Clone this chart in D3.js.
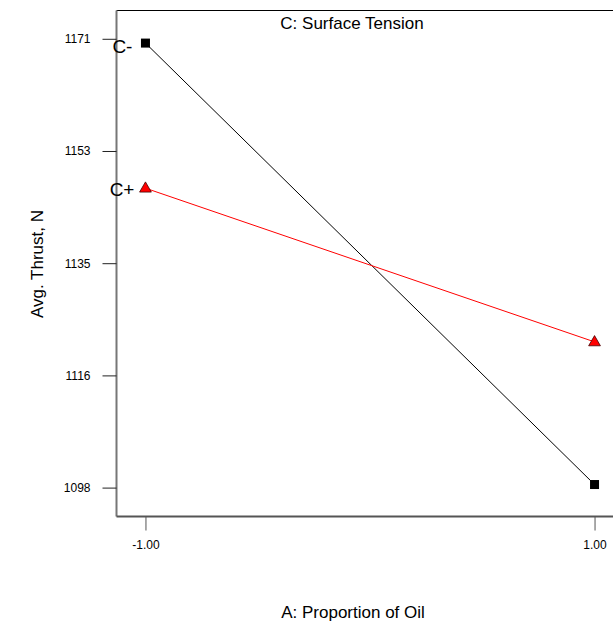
<!DOCTYPE html>
<html>
<head>
<meta charset="utf-8">
<script src="https://cdn.jsdelivr.net/npm/d3@7"></script>
<style>
  body { margin: 0; background: #fff; }
  svg { font-family: "Liberation Sans", Arial, sans-serif; }
</style>
</head>
<body>
<svg id="chart" width="613" height="627"></svg>
<script>
'use strict';
// Interaktiokuva: A x C
const factorA = [-1, 1];
const cMinus = [1170.3, 1098.5];
const cPlus = [1146.7, 1121.7];
const yTicks = [1098, 1116.25, 1134.5, 1152.75, 1171];
const xTicks = [-1, 1];

const svg = d3.select('#chart');

const plotLeft = 116.5, plotTop = 10.5, plotBottom = 516.5;

const x = d3.scaleLinear()
	.domain([-1.129, 1.129])
	.range([plotLeft, plotLeft + 507]);

const y = d3.scaleLinear()
	.domain([1093.3, 1175.6])
	.range([plotBottom, plotTop]);

// kehys
svg.append('line')
	.attr('x1', plotLeft).attr('x2', 613)
	.attr('y1', plotTop).attr('y2', plotTop)
	.attr('stroke', '#000').attr('stroke-width', 1);

const yAxis = svg.append('g')
	.attr('transform', `translate(${plotLeft},0)`)
	.call(d3.axisLeft(y).tickValues(yTicks).tickFormat(function(d) { return Math.round(d).toString(); }).tickSize(14).tickPadding(12));
yAxis.select('.domain').attr('stroke', '#777').attr('stroke-width', 2).attr('d', `M0,${plotTop}V${plotBottom}`);
yAxis.selectAll('.tick line').attr('stroke', '#222');
yAxis.selectAll('.tick text').attr('font-size', 12).attr('fill', '#000')
	.attr('font-family', '"Liberation Sans", Arial, sans-serif');

const xAxis = svg.append('g')
	.attr('transform', `translate(0,${plotBottom})`)
	.call(d3.axisBottom(x).tickValues(xTicks).tickFormat(function(d) { return d.toFixed(2); }).tickSize(14).tickPadding(10));
xAxis.select('.domain').attr('stroke', '#555').attr('stroke-width', 2).attr('d', `M${plotLeft},0H613`);
xAxis.selectAll('.tick line').attr('stroke', '#555');
xAxis.selectAll('.tick text').attr('font-size', 12).attr('fill', '#000')
	.attr('font-family', '"Liberation Sans", Arial, sans-serif');

const line = d3.line()
	.x(function(d) { return x(d[0]); })
	.y(function(d) { return y(d[1]); });

const blackData = factorA.map(function(a, i) { return [a, cMinus[i]]; });
const redData = factorA.map(function(a, i) { return [a, cPlus[i]]; });

svg.append('path')
	.datum(blackData)
	.attr('d', line)
	.attr('fill', 'none')
	.attr('stroke', '#000')
	.attr('stroke-width', 1);

svg.append('path')
	.datum(redData)
	.attr('d', line)
	.attr('fill', 'none')
	.attr('stroke', '#f00')
	.attr('stroke-width', 1);

svg.selectAll('.nelio')
	.data(blackData)
	.enter().append('rect')
	.attr('class', 'nelio')
	.attr('x', function(d) { return x(d[0]) - 4.5; })
	.attr('y', function(d) { return y(d[1]) - 4.5; })
	.attr('width', 9)
	.attr('height', 9)
	.attr('fill', '#000');

const tri = d3.symbol().type(d3.symbolTriangle).size(60);
svg.selectAll('.kolmio')
	.data(redData)
	.enter().append('path')
	.attr('class', 'kolmio')
	.attr('d', tri)
	.attr('transform', function(d) { return `translate(${x(d[0])},${y(d[1]) + 0.5})`; })
	.attr('fill', '#f00')
	.attr('stroke', '#400')
	.attr('stroke-width', 0.8);

// tasojen nimet
svg.append('text')
	.attr('x', x(-1) - 13).attr('y', y(cMinus[0]) + 10)
	.attr('text-anchor', 'end')
	.attr('font-size', 19)
	.text('C-');
svg.append('text')
	.attr('x', x(-1) - 11).attr('y', y(cPlus[0]) + 8)
	.attr('text-anchor', 'end')
	.attr('font-size', 19)
	.text('C+');

svg.append('text')
	.attr('x', 352).attr('y', 29)
	.attr('text-anchor', 'middle')
	.attr('font-size', 17)
	.text('C: Surface Tension');

svg.append('text')
	.attr('x', 353).attr('y', 618)
	.attr('text-anchor', 'middle')
	.attr('font-size', 17)
	.text('A: Proportion of Oil');

svg.append('text')
	.attr('transform', 'translate(43,264) rotate(-90)')
	.attr('text-anchor', 'middle')
	.attr('font-size', 17)
	.text('Avg. Thrust, N');
</script>
</body>
</html>
